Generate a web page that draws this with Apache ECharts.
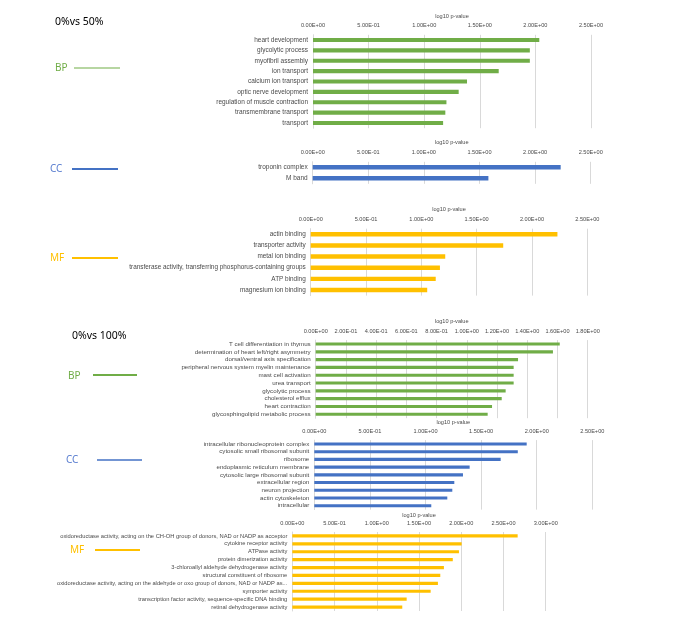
<!DOCTYPE html>
<html><head><meta charset="utf-8">
<script src="https://cdn.jsdelivr.net/npm/echarts@6/dist/echarts.min.js"></script>
<style>html,body{margin:0;padding:0;background:#fff}#c{width:678px;height:624px}</style>
</head><body><div id="c"></div>
<script>
// ---- data ----
const bp50Cats = ['heart development','glycolytic process','myofibril assembly','ion transport','calcium ion transport','optic nerve development','regulation of muscle contraction','transmembrane transport','transport'];
const bp50Vals = [2.035,1.95,1.95,1.67,1.385,1.31,1.20,1.19,1.17];
const cc50Cats = ['troponin complex','M band'];
const cc50Vals = [2.23,1.58];
const mf50Cats = ['actin binding','transporter activity','metal ion binding','transferase activity, transferring phosphorus-containing groups','ATP binding','magnesium ion binding'];
const mf50Vals = [2.23,1.74,1.216,1.168,1.13,1.053];
const bp100Cats = ['T cell differentiation in thymus','determination of heart left/right asymmetry','dorsal/ventral axis specification','peripheral nervous system myelin maintenance','mast cell activation','urea transport','glycolytic process','cholesterol efflux','heart contraction','glycosphingolipid metabolic process'];
const bp100Vals = [1.615,1.57,1.339,1.31,1.31,1.31,1.257,1.231,1.167,1.138];
const cc100Cats = ['intracellular ribonucleoprotein complex','cytosolic small ribosomal subunit','ribosome','endoplasmic reticulum membrane','cytosolic large ribosomal subunit','extracellular region','neuron projection','actin cytoskeleton','intracellular'];
const cc100Vals = [1.91,1.83,1.676,1.397,1.337,1.259,1.241,1.196,1.052];
const mf100Cats = ['oxidoreductase activity, acting on the CH-OH group of donors, NAD or NADP as acceptor','cytokine receptor activity','ATPase activity','protein dimerization activity','3-chloroallyl aldehyde dehydrogenase activity','structural constituent of ribosome','oxidoreductase activity, acting on the aldehyde or oxo group of donors, NAD or NADP as...','symporter activity','transcription factor activity, sequence-specific DNA binding','retinal dehydrogenase activity'];
const mf100Vals = [2.668,2.005,1.973,1.90,1.795,1.752,1.724,1.638,1.354,1.302];
const axisMax = [2.5,2.5,2.5,1.8,2.5,3.0];
const axisInterval = [0.5,0.5,0.5,0.2,0.5,0.5];
const axisTitle = 'log10 p-value';

// ---- styling / layout ----
const GREEN='#70AD47', BLUE='#4472C4', YELLOW='#FFC000';
const panels = [
  {cats:bp50Cats, vals:bp50Vals, color:GREEN, x0:313, x1:591, top:34.8, bottom:128.2, fs:6.5, gap:15},
  {cats:cc50Cats, vals:cc50Vals, color:BLUE, x0:312.7, x1:590.7, top:161.8, bottom:183.8, fs:6.5, gap:16},
  {cats:mf50Cats, vals:mf50Vals, color:YELLOW, x0:310.7, x1:587.3, top:228.7, bottom:295.6, fs:6.4, gap:16},
  {cats:bp100Cats, vals:bp100Vals, color:GREEN, x0:315.7, x1:587.7, top:340.1, bottom:418.2, fs:6.2, gap:15.3},
  {cats:cc100Cats, vals:cc100Vals, color:BLUE, x0:314.3, x1:592.3, top:440.1, bottom:509.6, fs:6.2, gap:14.6},
  {cats:mf100Cats, vals:mf100Vals, color:YELLOW, x0:292.3, x1:545.7, top:532, bottom:611, fs:5.75, gap:13.2}
];
const W=678,H=624;
function fmtE(v){
  v=+(+v).toPrecision(10);
  if(v===0) return '0.00E+00';
  let e=Math.floor(Math.log10(v)+1e-9);
  let m=v/Math.pow(10,e);
  let s=m.toFixed(2);
  if(s==='10.00'){e+=1;s='1.00';}
  return s+'E'+(e<0?'-':'+')+String(Math.abs(e)).padStart(2,'0');
}
const FONT='Liberation Sans';
const TXT='#4a4a4a';
const grid=[],xAxis=[],yAxis=[],series=[];
panels.forEach((p,i)=>{
  grid.push({left:p.x0,right:W-p.x1,top:p.top,height:p.bottom-p.top,containLabel:false});
  xAxis.push({type:'value',gridIndex:i,position:'top',min:0,max:axisMax[i],interval:axisInterval[i],
    name:axisTitle,nameLocation:'middle',nameGap:p.gap,
    nameTextStyle:{fontSize:5.6,color:TXT,fontFamily:FONT},
    axisLine:{show:false},axisTick:{show:false},
    axisLabel:{fontSize:5.6,color:TXT,fontFamily:FONT,margin:6,formatter:fmtE,showMinLabel:true,showMaxLabel:true,hideOverlap:false},
    splitLine:{show:true,lineStyle:{color:'#d9d9d9',width:1}}});
  yAxis.push({type:'category',gridIndex:i,inverse:true,data:p.cats,
    axisLine:{show:true,lineStyle:{color:'#d9d9d9'}},axisTick:{show:false},
    axisLabel:{fontSize:p.fs,color:TXT,fontFamily:FONT,margin:5,interval:0}});
  series.push({type:'bar',xAxisIndex:i,yAxisIndex:i,data:p.vals,barWidth:'40%',
    itemStyle:{color:p.color},silent:true,animation:false});
});

// left-side labels
const G=[];
function txt(x,y,t,color,size){G.push({type:'text',x:x,y:y,style:{text:t,fill:color,fontSize:size,fontFamily:'Noto Sans',verticalAlign:'middle',align:'left'}});}
function ln(x1,x2,y,color,w){G.push({type:'line',shape:{x1:x1,y1:y,x2:x2,y2:y},style:{stroke:color,lineWidth:w}});}
txt(55,22,'0%vs 50%','#000',10.5);
txt(55,68,'BP',GREEN,10); ln(74,120,68,GREEN,1.2);
txt(50,169,'CC','#5B7FD0',10); ln(72,118,169,BLUE,2);
txt(50,258,'MF',YELLOW,10); ln(72,118,258,YELLOW,2);
txt(72,336,'0%vs 100%','#000',10.5);
txt(68,376,'BP',GREEN,10); ln(93,137,375,GREEN,2);
txt(66,460,'CC','#5B7FD0',10); ln(97,142,460,BLUE,1.5);
txt(70,550,'MF',YELLOW,10); ln(95,140,550,YELLOW,2);

const chart=echarts.init(document.getElementById('c'),null,{renderer:'canvas'});
chart.setOption({animation:false,backgroundColor:'#fff',grid,xAxis,yAxis,series,graphic:G});
</script></body></html>
